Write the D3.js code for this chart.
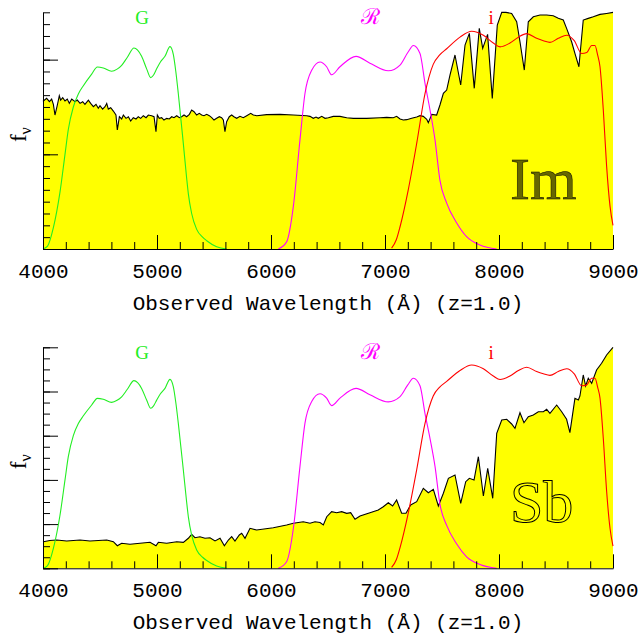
<!DOCTYPE html>
<html><head><meta charset="utf-8">
<script src="https://cdn.jsdelivr.net/npm/d3@7"></script>
<style>body{margin:0;background:#fff}svg{display:block}</style>
</head><body>
<script>
// ---------- DATA ----------
const xTicksMajor = [4000, 5000, 6000, 7000, 8000, 9000];
const xLabel = "Observed Wavelength (Å) (z=1.0)";
const filterNames = ["G", "ℛ", "i"];
const filterColors = ["#22ee22", "#ff00ff", "#ff0000"];
const filterLabelWave = [4870, 6860, 7930];

// filter transmissions (fraction of panel height)
const gWave = [4000,4040,4091,4149,4193,4222,4266,4310,4354,4427,4477,4529,4602,4650,4690,4740,4798,4830,4865,4910,4945,4970,4997,5030,5070,5114,5143,5165,5187,5231,5260,5275,5304,5348,5400,5436,5523,5611];
const gTrans = [0,0.012,0.09,0.24,0.40,0.505,0.60,0.655,0.69,0.739,0.769,0.765,0.751,0.76,0.776,0.81,0.849,0.84,0.814,0.76,0.724,0.735,0.761,0.79,0.814,0.855,0.822,0.75,0.656,0.445,0.30,0.233,0.15,0.083,0.05,0.035,0.01,0];
const rWave = [6064,6137,6196,6254,6298,6357,6430,6488,6532,6605,6746,6868,7029,7132,7200,7249,7307,7351,7395,7439,7482,7541,7629,7716,7833,7980];
const rTrans = [0,0.03,0.18,0.46,0.657,0.755,0.79,0.77,0.736,0.77,0.814,0.785,0.753,0.777,0.83,0.86,0.826,0.70,0.587,0.46,0.29,0.194,0.11,0.052,0.017,0];
const iWave = [7058,7100,7132,7204,7278,7351,7423,7480,7541,7658,7760,7863,7950,8009,8096,8170,8243,8330,8389,8447,8520,8594,8660,8725,8770,8813,8842,8865,8886,8915,8944,8974,9000];
const iTrans = [0.004,0.04,0.094,0.25,0.446,0.656,0.78,0.82,0.846,0.895,0.92,0.903,0.87,0.854,0.87,0.895,0.91,0.89,0.88,0.873,0.89,0.903,0.88,0.826,0.83,0.86,0.86,0.82,0.77,0.587,0.35,0.18,0.10];

// Im spectrum (f_nu)
const imWave = [4000,4003,4032,4056,4076,4091,4105,4126,4143,4155,4173,4193,4213,4231,4252,4281,4301,4325,4348,4368,4398,4418,4442,4465,4485,4500,4523,4544,4559,4573,4594,4617,4640,4652,4670,4690,4705,4728,4749,4769,4792,4816,4836,4857,4880,4904,4924,4953,4974,4991,5003,5020,5041,5061,5085,5108,5129,5149,5173,5196,5216,5237,5260,5284,5304,5325,5348,5371,5392,5412,5436,5459,5480,5500,5523,5547,5567,5582,5596,5611,5634,5655,5675,5699,5728,5757,5787,5822,5845,5875,5962,6079,6196,6313,6342,6371,6395,6415,6445,6474,6503,6547,6605,6664,6722,6839,6956,7015,7073,7102,7132,7161,7190,7234,7278,7307,7336,7366,7380,7410,7453,7482,7512,7541,7570,7614,7664,7702,7740,7783,7827,7857,7900,7941,7985,8024,8061,8111,8155,8184,8222,8257,8301,8360,8418,8476,8520,8564,8593,8637,8666,8701,8739,8783,8827,8886,8944,9000];
const imFlux = [1.56,1.563,1.591,1.556,1.584,1.528,1.415,1.521,1.619,1.573,1.598,1.563,1.584,1.538,1.584,1.556,1.573,1.538,1.556,1.528,1.573,1.538,1.503,1.528,1.486,1.514,1.478,1.503,1.538,1.478,1.492,1.457,1.415,1.257,1.397,1.373,1.415,1.380,1.397,1.352,1.387,1.373,1.397,1.380,1.408,1.387,1.415,1.408,1.397,1.239,1.415,1.380,1.387,1.362,1.380,1.373,1.397,1.387,1.408,1.387,1.397,1.415,1.397,1.422,1.468,1.450,1.415,1.433,1.415,1.408,1.422,1.408,1.387,1.362,1.380,1.397,1.387,1.362,1.239,1.344,1.397,1.415,1.397,1.380,1.401,1.387,1.408,1.433,1.415,1.408,1.419,1.422,1.415,1.408,1.401,1.380,1.394,1.380,1.401,1.380,1.387,1.401,1.401,1.387,1.380,1.380,1.387,1.390,1.387,1.401,1.373,1.362,1.366,1.380,1.394,1.408,1.401,1.370,1.334,1.422,1.415,1.521,1.644,1.679,1.837,2.049,1.732,2.154,2.277,1.697,2.330,2.119,2.267,1.591,2.365,2.499,2.499,2.488,2.400,2.189,1.890,2.400,2.453,2.471,2.471,2.464,2.436,2.418,2.330,2.189,2.066,1.925,2.418,2.436,2.453,2.478,2.488,2.499];

// Sb spectrum (f_nu)
const sbWave = [4000,4003,4060,4120,4208,4325,4412,4559,4617,4652,4690,4763,4851,4939,4991,5012,5085,5173,5231,5275,5304,5333,5377,5421,5465,5509,5553,5591,5626,5655,5684,5722,5743,5772,5816,5874,6020,6137,6196,6283,6342,6386,6430,6459,6489,6532,6576,6620,6664,6699,6737,6781,6868,6941,6985,7029,7067,7102,7146,7184,7225,7278,7336,7380,7424,7468,7512,7556,7614,7664,7708,7740,7781,7819,7863,7901,7945,7980,8024,8068,8111,8140,8184,8219,8257,8301,8345,8389,8418,8447,8506,8550,8593,8622,8666,8696,8710,8739,8760,8783,8813,8856,8900,8944,9000];
const sbFlux = [0.60,0.602,0.63,0.640,0.618,0.640,0.618,0.640,0.602,0.511,0.566,0.543,0.566,0.588,0.511,0.588,0.566,0.602,0.588,0.679,0.769,0.692,0.715,0.679,0.692,0.618,0.679,0.511,0.640,0.715,0.618,0.753,0.792,0.679,0.905,0.867,0.918,0.980,1.018,1.054,1.018,1.054,1.036,0.980,1.167,1.281,1.258,1.281,1.244,1.258,1.109,1.183,1.258,1.319,1.394,1.484,1.409,1.545,1.244,1.244,1.432,1.507,1.810,1.710,1.787,1.409,1.697,2.036,2.111,1.471,1.959,2.036,1.998,2.525,1.636,2.262,1.584,3.054,3.355,3.371,3.265,3.167,3.520,3.294,3.430,3.468,3.543,3.543,3.596,3.505,3.694,3.543,3.371,3.068,3.846,3.808,3.899,4.374,4.124,4.299,4.186,4.486,4.638,4.826,5.0];

const panelNames = ["Im", "Sb"];
const panelYMax = [2.5, 5];
const panelYMinor = [0.125, 0.25];

// ---------- DRAW ----------
const W = 644, H = 635;
const svg = d3.select("body").append("svg").attr("width", W).attr("height", H);
const x = d3.scaleLinear().domain([4000, 9000]).range([43, 613]);

const panels = [
  {top: 12.3, bottom: 249, wave: imWave, flux: imFlux, name: panelNames[0], yMax: panelYMax[0], minor: panelYMinor[0],
   nameFill: "#666600", nameStroke: 0.45, nameDy: 50},
  {top: 347.3, bottom: 568.3, wave: sbWave, flux: sbFlux, name: panelNames[1], yMax: panelYMax[1], minor: panelYMinor[1],
   nameFill: "#ffff00", nameStroke: 1.0, nameDy: 46}
];

const filters = [
  {w: gWave, t: gTrans}, {w: rWave, t: rTrans}, {w: iWave, t: iTrans}
];

panels.forEach(p => {
  const g = svg.append("g");
  const y = d3.scaleLinear().domain([0, p.yMax]).range([p.bottom, p.top]);
  const yF = d3.scaleLinear().domain([0, 1]).range([p.bottom, p.top]);
  const pts = p.wave.map((w, i) => [w, p.flux[i]]);

  g.append("path").datum(pts)
    .attr("fill", "#ffff00")
    .attr("d", d3.area().x(d => x(d[0])).y0(y(0)).y1(d => y(d[1])));

  g.append("text").text(p.name)
    .attr("x", 510).attr("y", p.bottom - p.nameDy)
    .attr("font-family", "Liberation Serif, serif")
    .attr("font-size", 60)
    .attr("fill", p.nameFill).attr("stroke", "#000").attr("stroke-width", p.nameStroke);

  g.append("path").datum(pts)
    .attr("fill", "none").attr("stroke", "#000").attr("stroke-width", 1.1)
    .attr("d", d3.line().x(d => x(d[0])).y(d => y(d[1])));

  filters.forEach((f, k) => {
    const fp = f.w.map((w, i) => [w, f.t[i]]);
    g.append("path").datum(fp)
      .attr("fill", "none").attr("stroke", filterColors[k]).attr("stroke-width", 1.1)
      .attr("d", d3.line().curve(d3.curveMonotoneX).x(d => x(d[0])).y(d => yF(d[1])));
    g.append("text").text(filterNames[k])
      .attr("x", x(filterLabelWave[k]) + (k === 1 ? 1 : 0)).attr("y", p.top + 12)
      .attr("text-anchor", "middle")
      .attr("font-family", k === 1 ? "DejaVu Serif, serif" : "Liberation Serif, serif")
      .attr("font-size", k === 1 ? 22 : 19)
      .attr("fill", filterColors[k]);
  });

  // axes
  const yMinorVals = d3.range(0, p.yMax + 1e-9, p.minor);
  const yMajorVals = yMinorVals.filter(v => Math.abs(v - Math.round(v)) < 1e-9);
  g.append("g").attr("transform", `translate(${x(4000)},0)`)
    .call(d3.axisLeft(y).tickValues(yMinorVals).tickSize(-7).tickSizeOuter(0).tickFormat(""));
  g.append("g").attr("transform", `translate(${x(4000)},0)`)
    .call(d3.axisLeft(y).tickValues(yMajorVals).tickSize(-15).tickSizeOuter(0).tickFormat(""))
    .call(a => a.select(".domain").remove());

  g.append("g").attr("transform", `translate(0,${p.bottom})`)
    .call(d3.axisBottom(x).tickValues(d3.range(4000, 9001, 200)).tickSize(-7).tickSizeOuter(0).tickFormat(""));
  const xa = g.append("g").attr("transform", `translate(0,${p.bottom})`)
    .call(d3.axisBottom(x).tickValues(xTicksMajor).tickSize(-14).tickSizeOuter(0).tickPadding(14).tickFormat(d3.format("d")));
  xa.select(".domain").remove();
  xa.selectAll("text").attr("font-family", "Liberation Mono, monospace").attr("font-size", 21).attr("fill", "#000");
  g.selectAll(".tick line, .domain").attr("stroke", "#000").attr("stroke-width", 1);

  g.append("text").text(xLabel)
    .attr("x", 328).attr("y", p.bottom + 61)
    .attr("text-anchor", "middle")
    .attr("font-family", "Liberation Mono, monospace").attr("font-size", 21).attr("fill", "#000");

  const yl = g.append("text")
    .attr("transform", `translate(26,${(p.top + p.bottom) / 2 + 4}) rotate(-90)`)
    .attr("text-anchor", "middle")
    .attr("font-family", "Liberation Serif, serif").attr("font-size", 23).attr("fill", "#000");
  yl.append("tspan").text("f");
  yl.append("tspan").text("ν").attr("font-size", 16).attr("dy", 5);
});
</script>
</body></html>
